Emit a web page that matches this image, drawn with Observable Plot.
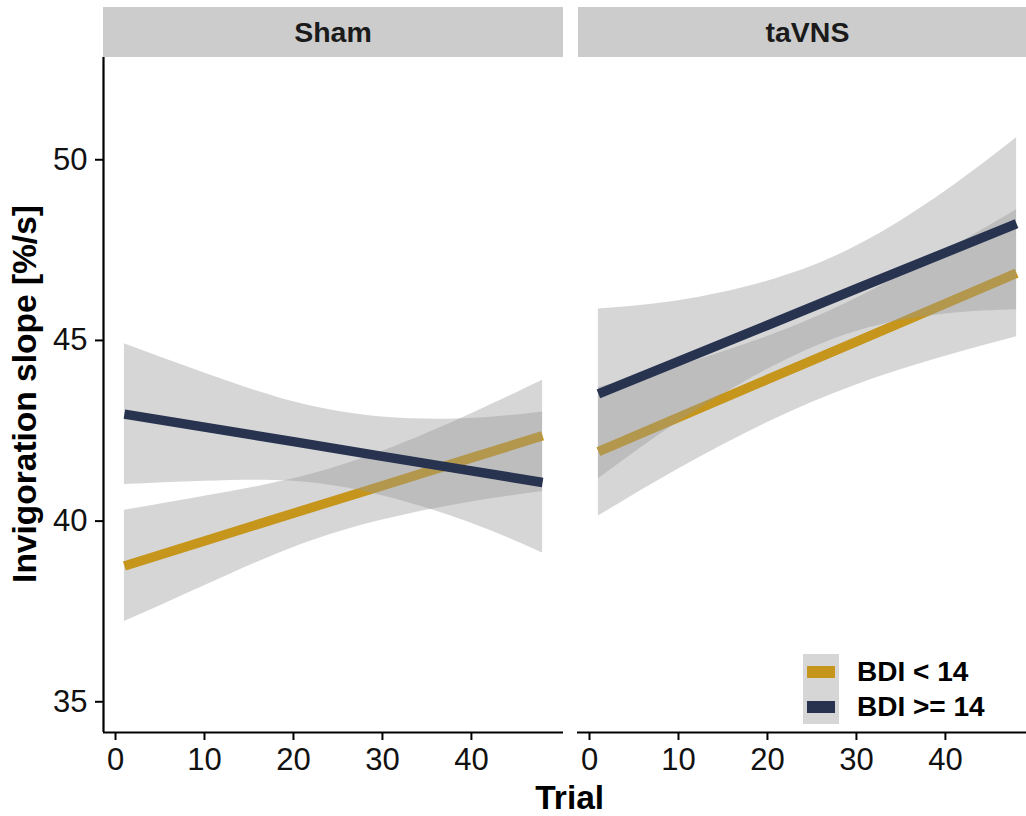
<!DOCTYPE html>
<html><head><meta charset="utf-8">
<script src="https://cdn.jsdelivr.net/npm/d3@7"></script>
<script src="https://cdn.jsdelivr.net/npm/@observablehq/plot@0.6"></script>
<style>
body{margin:0;background:#fff;font-family:"Liberation Sans",Arial,Helvetica,sans-serif;}
#wrap{position:relative;width:1026px;height:816px;overflow:hidden;background:#fff;}
.strip{position:absolute;top:7px;height:50px;background:#cccccc;display:flex;align-items:center;justify-content:center;font-weight:bold;font-size:28.5px;color:#1a1a1a;}
.title{position:absolute;font-weight:bold;font-size:33.5px;line-height:33.5px;color:#000;white-space:nowrap;transform:translate(-50%,-50%);}
.legtxt{position:absolute;left:857px;font-weight:bold;font-size:28px;line-height:28px;height:28px;color:#000;white-space:nowrap;}
svg{position:absolute;top:0;}
</style></head><body><div id="wrap"></div><script>
// ---- data ----
const facets = ["Sham", "taVNS"];
const groups = ["BDI < 14", "BDI >= 14"];
const groupColors = ["#C5961B", "#283350"];
const trials = [1, 10, 20, 30, 40, 48];
const xTicks = [0, 10, 20, 30, 40];
const yTicks = [35, 40, 45, 50];
// Sham
const shamLowFit  = [38.76, 39.45, 40.22, 40.98, 41.75, 42.36];
const shamLowLo   = [37.22, 38.21, 39.27, 40.03, 40.53, 40.82];
const shamLowHi   = [40.30, 40.69, 41.17, 41.93, 42.97, 43.90];
const shamHighFit = [42.96, 42.60, 42.20, 41.79, 41.39, 41.07];
const shamHighLo  = [41.01, 41.10, 41.10, 40.70, 39.94, 39.12];
const shamHighHi  = [44.91, 44.10, 43.30, 42.88, 42.84, 43.02];
// taVNS
const tavnsLowFit  = [41.92, 42.87, 43.92, 44.97, 46.02, 46.86];
const tavnsLowLo   = [40.14, 41.44, 42.73, 43.77, 44.56, 45.10];
const tavnsLowHi   = [43.70, 44.30, 45.11, 46.17, 47.48, 48.62];
const tavnsHighFit = [43.52, 44.42, 45.42, 46.43, 47.43, 48.23];
const tavnsHighLo  = [41.17, 42.74, 44.20, 45.25, 45.73, 45.85];
const tavnsHighHi  = [45.87, 46.10, 46.64, 47.61, 49.13, 50.61];

const xDomain = [-1.35, 50.35];
const yDomain = [34.15, 52.83];

function rows(fit, lo, hi) {
  return trials.map((t, i) => ({trial: t, fit: fit[i], lo: lo[i], hi: hi[i]}));
}

const font = '"Liberation Sans", Arial, Helvetica, sans-serif';

function panel(series, withY, width, marginLeft) {
  const marks = [];
  series.forEach((s, k) => {
    marks.push(Plot.areaY(s, {x: "trial", y1: "lo", y2: "hi", fill: "#999999", fillOpacity: 0.4, curve: "natural"}));
    marks.push(Plot.line(s, {x: "trial", y: "fit", stroke: groupColors[k], strokeWidth: 9.5, strokeLinecap: "butt"}));
  });
  marks.push(Plot.ruleY([yDomain[0]], {stroke: "#000", strokeWidth: 2.2}));
  marks.push(Plot.axisX(xTicks, {tickSize: 8, tickPadding: 7, label: null, stroke: "#000", strokeWidth: 2, fill: "#111", fontSize: 31}));
  if (withY) {
    marks.push(Plot.ruleX([xDomain[0]], {stroke: "#000", strokeWidth: 2.2}));
    marks.push(Plot.axisY(yTicks, {tickSize: 8, tickPadding: 8, label: null, stroke: "#000", strokeWidth: 2, fill: "#111", fontSize: 31}));
  }
  return Plot.plot({
    width, height: 816,
    marginLeft, marginRight: 0, marginTop: 57, marginBottom: 84,
    x: {domain: xDomain, label: null},
    y: {domain: yDomain, label: null, axis: withY ? undefined : null},
    style: {fontFamily: font, fontSize: "31px", color: "#111", background: "transparent", overflow: "visible"},
    marks
  });
}

const wrap = document.getElementById("wrap");

const left = panel([rows(shamLowFit, shamLowLo, shamLowHi), rows(shamHighFit, shamHighLo, shamHighHi)], true, 563, 103);
left.style.left = "0px";
wrap.appendChild(left);

const right = panel([rows(tavnsLowFit, tavnsLowLo, tavnsLowHi), rows(tavnsHighFit, tavnsHighLo, tavnsHighHi)], false, 460, 0);
right.style.left = "577px";
wrap.appendChild(right);

// strips
[[103, 460, facets[0]], [577.5, 460, facets[1]]].forEach(([l, w, txt]) => {
  const d = document.createElement("div");
  d.className = "strip";
  d.style.left = l + "px"; d.style.width = w + "px";
  d.textContent = txt;
  wrap.appendChild(d);
});

// axis titles
const yt = document.createElement("div");
yt.className = "title";
yt.style.left = "24.5px"; yt.style.top = "394px";
yt.style.transform = "translate(-50%,-50%) rotate(-90deg)";
yt.textContent = "Invigoration slope [%/s]";
wrap.appendChild(yt);

const xt = document.createElement("div");
xt.className = "title";
xt.style.left = "569.7px"; xt.style.top = "797.5px";
xt.textContent = "Trial";
wrap.appendChild(xt);

// legend
const keyBg = document.createElement("div");
Object.assign(keyBg.style, {position: "absolute", left: "803px", top: "654px", width: "35.5px", height: "70px", background: "#d6d6d6"});
wrap.appendChild(keyBg);
const rowCenters = [672, 707];
groups.forEach((g, i) => {
  const k = document.createElement("div");
  Object.assign(k.style, {position: "absolute", left: "807px", width: "27.5px", top: (rowCenters[i] - 5.6) + "px", height: "11.2px", background: groupColors[i]});
  wrap.appendChild(k);
  const t = document.createElement("div");
  t.className = "legtxt";
  t.style.top = (rowCenters[i] - 14) + "px";
  t.textContent = g;
  wrap.appendChild(t);
});
</script></body></html>
